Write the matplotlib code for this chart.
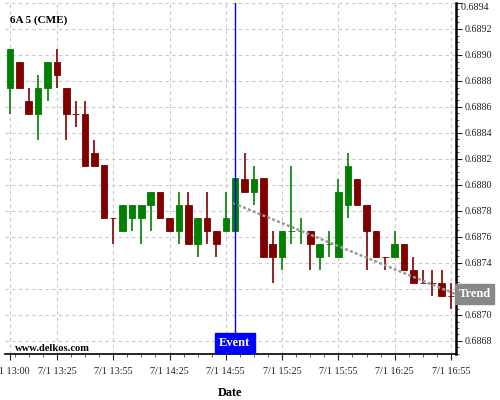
"""
6A 5 min candlestick chart with an event marker and a trend line
"""

import numpy as np
import pandas as pd
import matplotlib
matplotlib.use("Agg")
import matplotlib.pyplot as plt
from matplotlib.ticker import MultipleLocator, FixedLocator, FuncFormatter
from matplotlib.transforms import blended_transform_factory

# bar data (5 min bars, 7/1 13:00 - 16:55)
opens = [0.68875, 0.68895, 0.68865, 0.68855, 0.68875, 0.68895, 0.68875, 0.68855,
         0.68855, 0.68825, 0.68815, 0.68775, 0.68765, 0.68775, 0.68775, 0.68785,
         0.68795, 0.68775, 0.68765, 0.68785, 0.68755, 0.68775, 0.68765, 0.68765,
         0.68765, 0.68805, 0.68795, 0.68805, 0.68755, 0.68745, 0.68765, 0.68765,
         0.68765, 0.68745, 0.68755, 0.68745, 0.68785, 0.68805, 0.68785, 0.68765,
         0.68745, 0.68745, 0.68755, 0.68735, 0.68725, 0.68725, 0.68725, 0.68715]
highs = [0.68905, 0.68895, 0.68875, 0.68885, 0.68895, 0.68905, 0.68875, 0.68865,
         0.68865, 0.68835, 0.68815, 0.68775, 0.68785, 0.68785, 0.68785, 0.68795,
         0.68795, 0.68775, 0.68795, 0.68795, 0.68775, 0.68795, 0.68765, 0.68795,
         0.68805, 0.68825, 0.68815, 0.68805, 0.68765, 0.68765, 0.68815, 0.68775,
         0.68765, 0.68755, 0.68765, 0.68805, 0.68825, 0.68805, 0.68785, 0.68765,
         0.68745, 0.68765, 0.68755, 0.68745, 0.68735, 0.68735, 0.68735, 0.68725]
lows = [0.68855, 0.68875, 0.68855, 0.68835, 0.68865, 0.68875, 0.68835, 0.68845,
        0.68815, 0.68815, 0.68775, 0.68755, 0.68765, 0.68765, 0.68755, 0.68765,
        0.68775, 0.68765, 0.68755, 0.68755, 0.68745, 0.68755, 0.68745, 0.68765,
        0.68765, 0.68795, 0.68785, 0.68745, 0.68725, 0.68735, 0.68755, 0.68755,
        0.68735, 0.68735, 0.68745, 0.68745, 0.68775, 0.68785, 0.68735, 0.68745,
        0.68735, 0.68745, 0.68735, 0.68725, 0.68725, 0.68715, 0.68715, 0.68705]
closes = [0.68905, 0.68875, 0.68855, 0.68875, 0.68895, 0.68885, 0.68855, 0.68855,
          0.68815, 0.68815, 0.68775, 0.68775, 0.68785, 0.68785, 0.68785, 0.68795,
          0.68775, 0.68765, 0.68785, 0.68755, 0.68775, 0.68765, 0.68755, 0.68775,
          0.68805, 0.68795, 0.68805, 0.68745, 0.68745, 0.68765, 0.68765, 0.68765,
          0.68755, 0.68755, 0.68755, 0.68795, 0.68815, 0.68785, 0.68765, 0.68745,
          0.68745, 0.68755, 0.68735, 0.68725, 0.68725, 0.68725, 0.68715, 0.68715]
# colour of each bar: 1 = up (green), 0 = down (red)
up = [1, 0, 0, 1, 1, 0, 0, 0, 0, 0, 0, 0, 1, 1, 1, 1,
      0, 0, 1, 0, 1, 0, 0, 1, 1, 0, 1, 0, 0, 1, 1, 1,
      0, 1, 1, 1, 1, 0, 0, 0, 0, 1, 0, 0, 0, 0, 0, 0]

start_time = "2020-07-01 13:00"
tick_times = ["13:00", "13:25", "13:55", "14:25", "14:55",
              "15:25", "15:55", "16:25", "16:55"]
event_time = "15:00"
trend_times = ["14:59", "16:57:30"]
trend_values = [0.68786, 0.68716]

title = "6A 5 (CME)"
site = "www.delkos.com"

green = "#008000"
red = "#800000"
y_min, y_max = 0.6867, 0.6894

plt.rcParams['font.family'] = ['Liberation Serif', 'DejaVu Serif']

times = pd.date_range(start_time, periods=len(opens), freq="5min")
hhmm = list(times.strftime("%H:%M"))
idx = np.arange(len(opens))

def time_to_idx(t):
    # position of a hh:mm(:ss) time in bar units
    t0 = pd.Timestamp(start_time)
    t1 = pd.Timestamp(start_time[:11] + t)
    return (t1 - t0).total_seconds() / 300.0

def price_label(v, pos):
    # top label is drawn by hand, the one under the Trend box is hidden
    if abs(v - y_max) < 1e-7 or abs(v - trend_values[-1]) < 0.0001:
        return ""
    return "%.4f" % v

fig = plt.figure(figsize=(5, 4), dpi=100)
ax = fig.add_axes([0.01, 0.115, 0.902, 0.8775])

o = np.array(opens)
c = np.array(closes)
cols = [green if u else red for u in up]

# wicks and bodies
ax.vlines(idx, lows, highs, colors=cols, linewidth=1.2, zorder=3)
ax.bar(idx, np.abs(c - o), bottom=np.minimum(o, c), width=0.7,
       color=cols, edgecolor=cols, linewidth=0.6, zorder=3)

# trend line
tx = [time_to_idx(t) for t in trend_times]
ax.plot(tx, trend_values, color="#999999", linewidth=1.8,
        linestyle=(0, (1.2, 0.9)), zorder=4)

# event marker
ev = hhmm.index(event_time)
ax.axvline(ev, color="blue", linewidth=1.0, zorder=5)

ax.set_xlim(-0.53, 47.53)
ax.set_ylim(y_min, y_max)

# axes styling
for s in ["top", "left"]:
    ax.spines[s].set_visible(False)
ax.spines["right"].set_linewidth(1.8)
ax.spines["bottom"].set_linewidth(1.2)

ax.yaxis.tick_right()
ax.yaxis.set_major_locator(MultipleLocator(0.0002))
ax.yaxis.set_minor_locator(MultipleLocator(0.00005))
ax.yaxis.set_major_formatter(FuncFormatter(price_label))

tick_pos = [hhmm.index(t) for t in tick_times]
ax.xaxis.set_major_locator(FixedLocator(tick_pos))
ax.set_xticklabels(["7/1 " + t for t in tick_times])
ax.xaxis.set_minor_locator(FixedLocator(np.arange(tick_pos[-1], -0.1, -1.5)))

ax.tick_params(axis="both", which="major", length=4, width=0.8,
               labelsize=7.3, colors="#222222")
ax.tick_params(axis="both", which="minor", length=2.5, width=0.6, colors="#444444")
ax.tick_params(axis="x", which="major", pad=5)
ax.tick_params(axis="y", which="major", pad=2)

ax.grid(True, which="major", color="#c8c8c8", linestyle=(0, (3, 3)), linewidth=0.8)
ax.set_axisbelow(True)

ax.set_xlabel("Date", fontsize=8.8, fontweight="bold", labelpad=8)

ytr = blended_transform_factory(ax.transAxes, ax.transData)
# top price label, kept inside the picture
ax.text(1.0, y_max, "  %.4f" % y_max, transform=ytr, fontsize=7.3,
        color="#222222", ha="left", va="top", clip_on=False)

ax.text(0.011, 0.95, title, transform=ax.transAxes, fontsize=8,
        fontweight="bold", ha="left", va="center")
ax.text(0.022, 0.015, site, transform=ax.transAxes, fontsize=7.6,
        fontweight="bold", ha="left", va="center")

# Event label at bottom of event line
trx = blended_transform_factory(ax.transData, ax.transAxes)
ax.text(ev - 0.05, 0.031, "Event", transform=trx, fontsize=9, fontweight="bold",
        color="white", ha="center", va="center", zorder=6,
        bbox=dict(boxstyle="square,pad=0.35", facecolor="blue", edgecolor="blue"))

# Trend label at right of the axis
ax.text(1.041, trend_values[-1], "Trend", transform=ytr, fontsize=9,
        fontweight="bold", color="white", ha="center", va="center",
        clip_on=False, zorder=6,
        bbox=dict(boxstyle="square,pad=0.3", facecolor="#888888", edgecolor="#888888"))

fig.savefig("out.png", dpi=100)
